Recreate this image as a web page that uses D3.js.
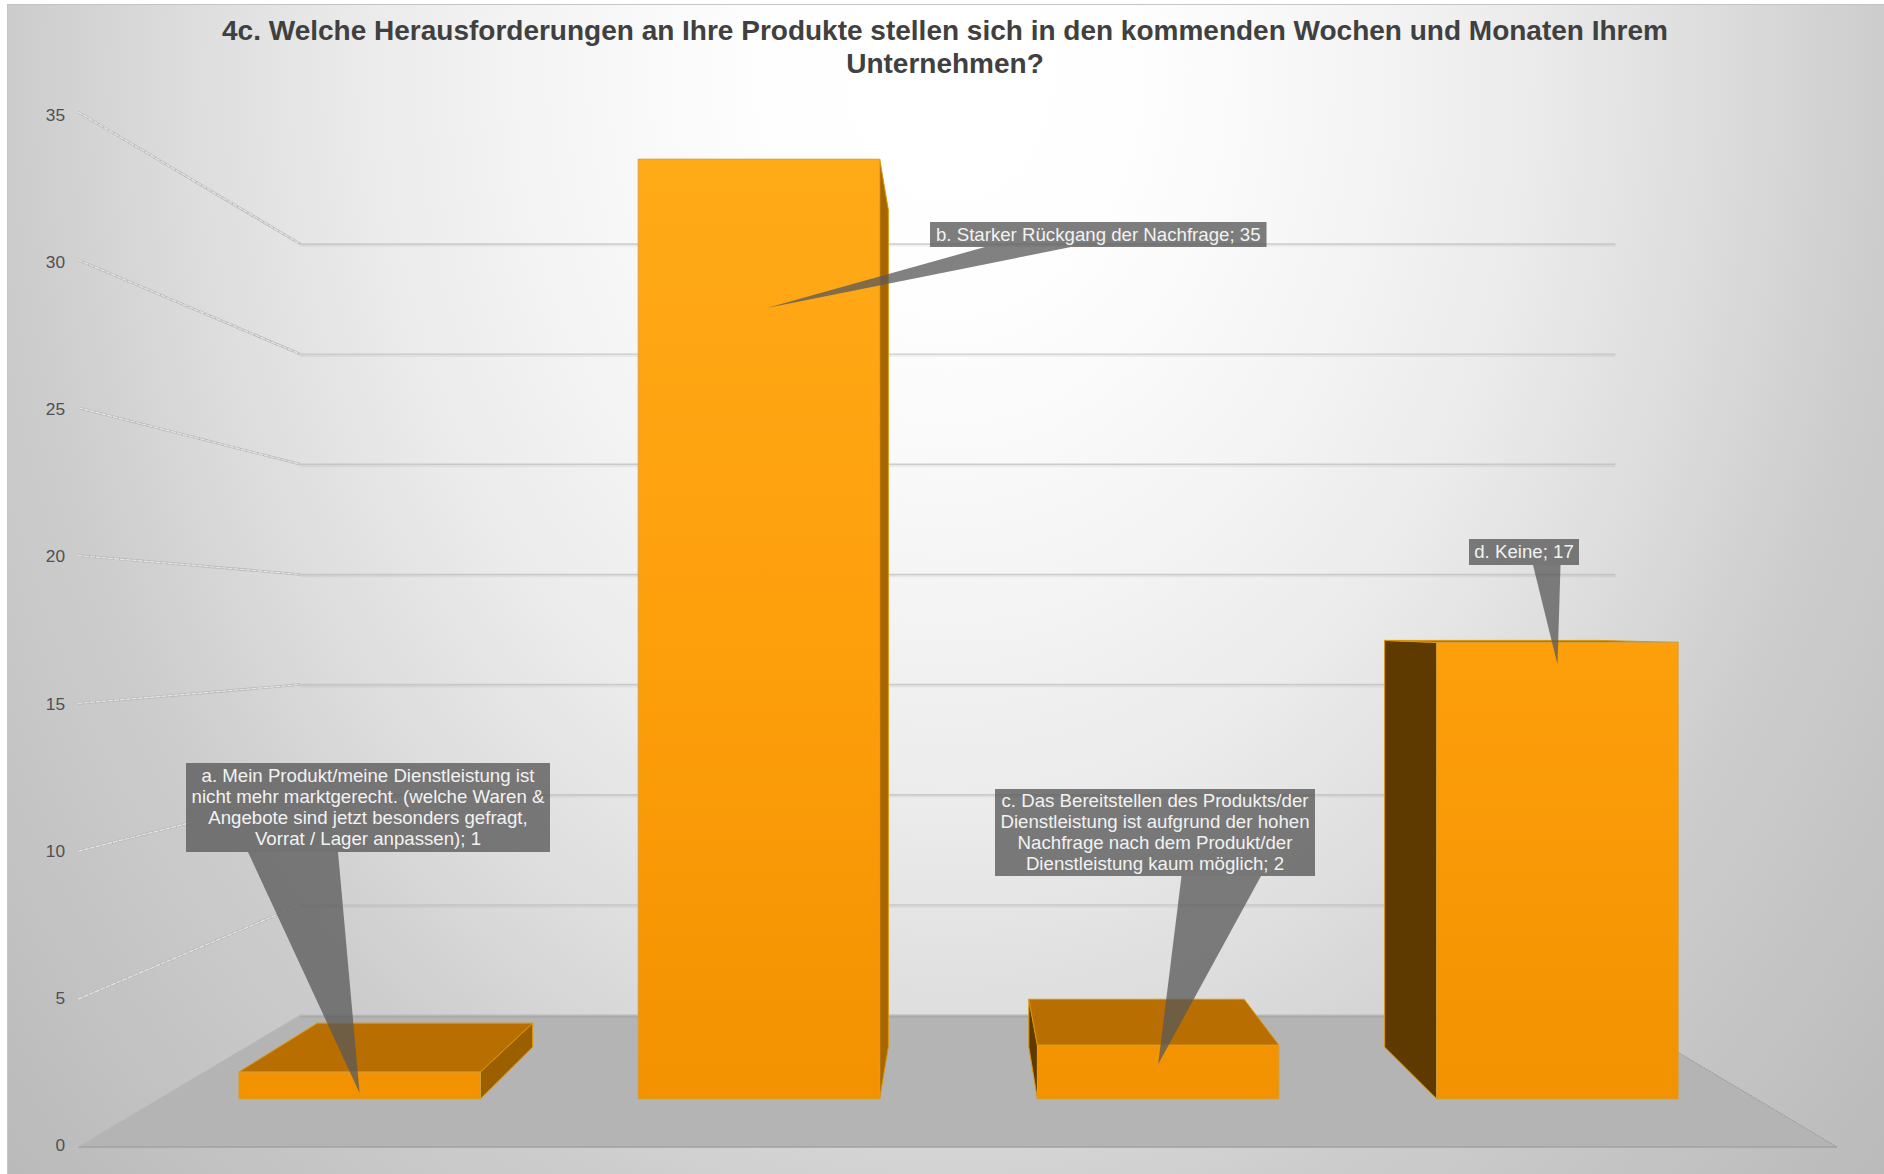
<!DOCTYPE html>
<html>
<head>
<meta charset="utf-8">
<script src="https://cdn.jsdelivr.net/npm/d3@7"></script>
<style>
  html, body { margin: 0; padding: 0; background: #fff; }
  svg { display: block; }
  text { font-family: "Liberation Sans", Arial, sans-serif; }
</style>
</head>
<body>
<div id="chart"></div>
<script>
const categories = ["a", "b", "c", "d"];
const values = [1, 35, 2, 17];
const y_ticks = [0, 5, 10, 15, 20, 25, 30, 35];
const title_lines = [
  "4c. Welche Herausforderungen an Ihre Produkte stellen sich in den kommenden Wochen und Monaten Ihrem",
  "Unternehmen?"
];
const label_lines = [
  ["a. Mein Produkt/meine Dienstleistung ist", "nicht mehr marktgerecht. (welche Waren &", "Angebote sind jetzt besonders gefragt,", "Vorrat / Lager anpassen); 1"],
  ["b. Starker Rückgang der Nachfrage; 35"],
  ["c. Das Bereitstellen des Produkts/der", "Dienstleistung ist aufgrund der hohen", "Nachfrage nach dem Produkt/der", "Dienstleistung kaum möglich; 2"],
  ["d. Keine; 17"]
];

const WIDTH = 1884,
  HEIGHT = 1174,
  VANISH_X = 959,
  VANISH_Y = 624,
  // edges of the floor, measured from the vanishing point
  X_LEFT = -881,
  X_RIGHT = 878,
  // perspective factors of the planes of the 3d box
  FRONT_PLANE = 1,
  BACK_PLANE = 0.7476,
  BAR_FRONT = 0.908,
  BAR_BACK = 0.809;

// callout boxes, wedge base and how far the tip sits from the bar's top centre
const CALLOUTS = [
  { x0: 186, x1: 550, y0: 763, y1: 852, base0: 248, base1: 338, tip_dx: 0, tip_dy: 21 },
  { x0: 930, x1: 1266.5, y0: 222, y1: 247, base0: 985, base1: 1071, tip_dx: 8, tip_dy: 149 },
  { x0: 995, x1: 1315, y0: 789, y1: 876, base0: 1181.5, base1: 1261, tip_dx: 0, tip_dy: 19 },
  { x0: 1469, x1: 1579, y0: 539, y1: 565, base0: 1533, base1: 1560.5, tip_dx: 0, tip_dy: 22 }
];

var x_scale = d3.scaleBand()
  .domain(categories)
  .range([-880, 879])
  .paddingInner(0.395)
  .paddingOuter(0.1975);

var y_scale = d3.scaleLinear().domain([0, 35]).range([523, -512]);
// the back wall comes out a touch flatter than the bars' perspective
var wall_y_scale = d3.scaleLinear().domain([0, 35]).range([1015, 244]);

function project(x, value, plane) {
  /* world position to screen, everything runs to one vanishing point */
  return [VANISH_X + x * plane, VANISH_Y + y_scale(value) * plane];
}

function wall_point(x, value) {
  return [VANISH_X + x * BACK_PLANE, wall_y_scale(value)];
}

var line = d3.line();

var svg = d3.select("#chart").append("svg")
  .attr("width", WIDTH)
  .attr("height", HEIGHT);

var defs = svg.append("defs");

var bg_gradient = defs.append("radialGradient")
  .attr("id", "bg-gradient")
  .attr("gradientUnits", "userSpaceOnUse")
  .attr("cx", 0).attr("cy", 0).attr("r", 1)
  .attr("gradientTransform", "translate(950,70) scale(1302,1652)");
[[0, "#ffffff"], [0.143, "#fefefe"], [0.307, "#f5f5f5"], [0.45, "#ebebeb"], [0.593, "#dcdcdc"], [0.714, "#cdcdcd"], [0.979, "#bababa"], [1, "#b8b8b8"]].forEach(function(d) {
  bg_gradient.append("stop").attr("offset", d[0]).attr("stop-color", d[1]);
});

var bar_gradient = defs.append("linearGradient")
  .attr("id", "bar-gradient")
  .attr("gradientUnits", "userSpaceOnUse")
  .attr("x1", 0).attr("y1", 159).attr("x2", 0).attr("y2", 1099);
[[0, "#ffaa18"], [0.5, "#fe9f0c"], [1, "#f39200"]].forEach(function(d) {
  bar_gradient.append("stop").attr("offset", d[0]).attr("stop-color", d[1]);
});

svg.append("rect")
  .attr("x", 7.5).attr("y", 4.5)
  .attr("width", WIDTH).attr("height", HEIGHT)
  .attr("fill", "url(#bg-gradient)")
  .attr("stroke", "#c4c4c4");

// floor
svg.append("path")
  .attr("d", line([
    project(X_LEFT, 0, FRONT_PLANE),
    project(X_RIGHT, 0, FRONT_PLANE),
    wall_point(X_RIGHT, 0),
    wall_point(X_LEFT, 0)
  ]) + "Z")
  .attr("fill", "#b4b4b4");

svg.append("path")
  .attr("d", line([project(X_LEFT, 0, FRONT_PLANE), project(X_RIGHT, 0, FRONT_PLANE)]))
  .attr("stroke", "#a2a2a2").attr("stroke-width", 1.5).attr("fill", "none");

// gridlines, side wall then back wall
var grid = svg.append("g").attr("class", "grid");

grid.selectAll(".side-shade")
  .data(y_ticks)
  .enter().append("path")
  .attr("d", function(d) { return line([project(X_LEFT, d, FRONT_PLANE), wall_point(X_LEFT, d)]); })
  .attr("fill", "none")
  .attr("stroke", "#b8b8b8")
  .attr("stroke-width", function(d) { return d === 0 ? 1 : 2.6; })
  .attr("stroke-dasharray", function(d) { return d === 0 ? "2 1" : null; });

grid.selectAll(".side-dash")
  .data(y_ticks.slice(1))
  .enter().append("path")
  .attr("d", function(d) { return line([project(X_LEFT, d, FRONT_PLANE), wall_point(X_LEFT, d)]); })
  .attr("fill", "none")
  .attr("stroke", "#e6e6e6")
  .attr("stroke-width", 1.2)
  .attr("stroke-dasharray", "5 1");

svg.append("path")
  .attr("d", line([project(X_RIGHT, 0, FRONT_PLANE), wall_point(X_RIGHT, 0)]))
  .attr("stroke", "#9a9a9a").attr("stroke-dasharray", "2 1").attr("fill", "none");

grid.selectAll(".back-shadow")
  .data(y_ticks)
  .enter().append("path")
  .attr("d", function(d) {
    var a = wall_point(X_LEFT, d), b = wall_point(X_RIGHT, d);
    return line([[a[0], a[1] + 1.6], [b[0], b[1] + 1.6]]);
  })
  .attr("stroke", "#000").attr("stroke-opacity", 0.05).attr("stroke-width", 2.5).attr("fill", "none");

grid.selectAll(".back-line")
  .data(y_ticks)
  .enter().append("path")
  .attr("d", function(d) { return line([wall_point(X_LEFT, d), wall_point(X_RIGHT, d)]); })
  .attr("stroke", "#bdbdbd").attr("stroke-opacity", 0.75).attr("stroke-width", 1.4).attr("fill", "none");

// y axis labels sit on the front edge of the side wall
var y_axis_scale = d3.scaleLinear().domain([0, 35]).range([1145, 115]);
var y_axis = svg.append("g")
  .attr("transform", "translate(65,0)")
  .call(d3.axisLeft(y_axis_scale).tickValues(y_ticks).tickSize(0).tickPadding(0));
y_axis.select(".domain").remove();
y_axis.selectAll("text")
  .attr("fill", "#505050")
  .style("font-family", '"Liberation Sans", Arial, sans-serif')
  .style("font-size", "17.3px");

// bars, faces painted back to front
var bars = svg.selectAll(".bar")
  .data(categories.map(function(c, i) { return { category: c, value: values[i] }; }))
  .enter().append("g")
  .attr("class", "bar");

bars.each(function(d) {
  var g = d3.select(this),
    x0 = x_scale(d.category),
    x1 = x0 + x_scale.bandwidth();

  // the side nearest to the centre line is the one in view
  var side_x = x1 < 0 ? x1 : x0;
  g.append("path")
    .attr("d", line([
      project(side_x, 0, BAR_FRONT),
      project(side_x, d.value, BAR_FRONT),
      project(side_x, d.value, BAR_BACK),
      project(side_x, 0, BAR_BACK)
    ]) + "Z")
    .attr("fill", x1 < 0 ? (d.value > 17 ? "#a86600" : "#9c5f00") : "#5f3a00")
    .attr("stroke", "#d9960a").attr("stroke-width", 1);

  // top is seen only when it is below eye height
  if (y_scale(d.value) > 0) {
    g.append("path")
      .attr("d", line([
        project(x0, d.value, BAR_FRONT),
        project(x1, d.value, BAR_FRONT),
        project(x1, d.value, BAR_BACK),
        project(x0, d.value, BAR_BACK)
      ]) + "Z")
      .attr("fill", "#b86e00")
      .attr("stroke", "#d9960a").attr("stroke-width", 1);
  }

  g.append("path")
    .attr("d", line([
      project(x0, 0, BAR_FRONT),
      project(x1, 0, BAR_FRONT),
      project(x1, d.value, BAR_FRONT),
      project(x0, d.value, BAR_FRONT)
    ]) + "Z")
    .attr("fill", "url(#bar-gradient)")
    .attr("stroke", "#c9a24a").attr("stroke-width", 0.8);
});

// data callouts
var callouts = svg.selectAll(".callout")
  .data(categories.map(function(c, i) {
    return { category: c, value: values[i], lines: label_lines[i], box: CALLOUTS[i] };
  }))
  .enter().append("g")
  .attr("class", "callout");

callouts.append("path")
  .attr("d", function(d) {
    var top_centre = project(x_scale(d.category) + x_scale.bandwidth() / 2, d.value, BAR_FRONT);
    return line([
      [d.box.base0, d.box.y1],
      [d.box.base1, d.box.y1],
      [top_centre[0] + d.box.tip_dx, top_centre[1] + d.box.tip_dy]
    ]) + "Z";
  })
  .attr("fill", "#595959")
  .attr("fill-opacity", 0.76);

callouts.append("rect")
  .attr("x", function(d) { return d.box.x0; })
  .attr("y", function(d) { return d.box.y0; })
  .attr("width", function(d) { return d.box.x1 - d.box.x0; })
  .attr("height", function(d) { return d.box.y1 - d.box.y0; })
  .attr("fill", "#595959")
  .attr("fill-opacity", 0.78);

callouts.each(function(d) {
  var centre_x = (d.box.x0 + d.box.x1) / 2,
    centre_y = (d.box.y0 + d.box.y1) / 2;
  d3.select(this).selectAll("text")
    .data(d.lines)
    .enter().append("text")
    .attr("x", centre_x)
    .attr("y", function(t, i) { return centre_y + (i - (d.lines.length - 1) / 2) * 21 + 6; })
    .attr("text-anchor", "middle")
    .attr("fill", "#f2f2f2")
    .style("font-size", "18.67px")
    .text(function(t) { return t; });
});

// title
svg.selectAll(".title")
  .data(title_lines)
  .enter().append("text")
  .attr("class", "title")
  .attr("x", 945)
  .attr("y", function(d, i) { return 40 + i * 32.5; })
  .attr("text-anchor", "middle")
  .attr("fill", "#404040")
  .style("font-size", "28px")
  .style("font-weight", "bold")
  .text(function(d) { return d; });
</script>
</body>
</html>
